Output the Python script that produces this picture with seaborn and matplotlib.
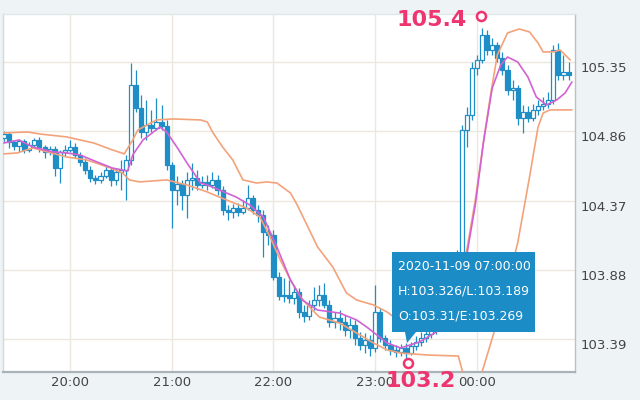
import numpy as np
import pandas as pd
import matplotlib
matplotlib.use("Agg")
import matplotlib.pyplot as plt
import matplotlib.dates as mdates
import matplotlib.transforms as mtransforms
from matplotlib.patches import Rectangle, Polygon
import seaborn as sns

# 3-minute candles, first one at 19:21
start = "2020-11-08 19:21"

opens = [104.813, 104.841, 104.784, 104.756, 104.791, 104.728, 104.763, 104.798, 104.749, 104.714,
         104.735, 104.600, 104.714, 104.728, 104.749, 104.692, 104.643, 104.586, 104.530, 104.516,
         104.544, 104.586, 104.516, 104.572, 104.586, 104.657, 105.187, 105.025, 104.855, 104.905,
         104.883, 104.926, 104.897, 104.622, 104.445, 104.487, 104.410, 104.516, 104.530, 104.480,
         104.502, 104.480, 104.516, 104.445, 104.304, 104.289, 104.318, 104.289, 104.318, 104.388,
         104.304, 104.268, 104.148, 104.127, 103.830, 103.695, 103.703, 103.681, 103.724, 103.582,
         103.554, 103.632, 103.667, 103.703, 103.632, 103.512, 103.540, 103.512, 103.455, 103.490,
         103.398, 103.349, 103.384, 103.328, 103.582, 103.398, 103.349, 103.314, 103.299, 103.328,
         103.292, 103.342, 103.370, 103.398, 103.427, 103.455, 103.483, 103.526, 103.540, 103.561,
         103.985, 104.869, 104.975, 105.308, 105.364, 105.541, 105.435, 105.470, 105.378, 105.293,
         105.152, 105.166, 104.954, 104.996, 104.954, 105.011, 105.039, 105.053, 105.081, 105.435,
         105.258, 105.279]
highs = [104.862, 104.855, 104.798, 104.806, 104.806, 104.784, 104.813, 104.820, 104.763, 104.756,
         104.756, 104.728, 104.763, 104.798, 104.777, 104.714, 104.671, 104.615, 104.551, 104.572,
         104.615, 104.600, 104.600, 104.657, 104.692, 105.343, 105.293, 105.117, 105.081, 105.011,
         105.095, 105.046, 104.940, 104.643, 104.544, 104.516, 104.572, 104.636, 104.586, 104.544,
         104.551, 104.572, 104.551, 104.473, 104.339, 104.346, 104.353, 104.374, 104.480, 104.410,
         104.339, 104.304, 104.197, 104.162, 103.865, 103.823, 103.809, 103.773, 103.752, 103.632,
         103.667, 103.759, 103.773, 103.787, 103.667, 103.582, 103.596, 103.561, 103.540, 103.526,
         103.441, 103.434, 103.420, 103.773, 103.611, 103.420, 103.384, 103.349, 103.356, 103.363,
         103.370, 103.413, 103.441, 103.469, 103.512, 103.540, 103.582, 103.596, 103.632, 104.021,
         104.905, 105.032, 105.350, 105.400, 105.590, 105.576, 105.520, 105.491, 105.421, 105.329,
         105.223, 105.187, 105.046, 105.039, 105.053, 105.081, 105.102, 105.138, 105.470, 105.484,
         105.400, 105.350]
lows = [104.784, 104.742, 104.728, 104.714, 104.707, 104.714, 104.749, 104.714, 104.671, 104.692,
        104.544, 104.494, 104.685, 104.714, 104.671, 104.615, 104.558, 104.502, 104.487, 104.494,
        104.530, 104.473, 104.480, 104.445, 104.374, 104.622, 104.996, 104.813, 104.798, 104.855,
        104.869, 104.869, 104.586, 104.176, 104.339, 104.304, 104.247, 104.445, 104.445, 104.459,
        104.445, 104.459, 104.410, 104.268, 104.233, 104.247, 104.261, 104.275, 104.304, 104.275,
        104.219, 103.971, 104.056, 103.809, 103.667, 103.653, 103.646, 103.639, 103.540, 103.512,
        103.526, 103.596, 103.625, 103.611, 103.476, 103.469, 103.455, 103.413, 103.398, 103.349,
        103.314, 103.292, 103.271, 103.299, 103.370, 103.314, 103.278, 103.264, 103.271, 103.250,
        103.278, 103.314, 103.342, 103.370, 103.398, 103.427, 103.455, 103.483, 103.512, 103.526,
        103.964, 104.749, 104.940, 105.258, 105.343, 105.400, 105.400, 105.350, 105.258, 105.117,
        105.081, 104.905, 104.848, 104.926, 104.933, 104.975, 105.011, 105.025, 105.053, 105.223,
        105.223, 105.223]
closes = [104.841, 104.784, 104.756, 104.791, 104.728, 104.763, 104.798, 104.749, 104.714, 104.735,
          104.600, 104.714, 104.728, 104.749, 104.692, 104.643, 104.586, 104.530, 104.516, 104.544,
          104.586, 104.516, 104.572, 104.586, 104.657, 105.187, 105.025, 104.855, 104.905, 104.883,
          104.926, 104.897, 104.622, 104.445, 104.487, 104.410, 104.516, 104.530, 104.480, 104.502,
          104.480, 104.516, 104.445, 104.304, 104.289, 104.318, 104.289, 104.318, 104.388, 104.304,
          104.268, 104.148, 104.127, 103.830, 103.695, 103.703, 103.681, 103.724, 103.582, 103.554,
          103.632, 103.667, 103.703, 103.632, 103.512, 103.540, 103.512, 103.455, 103.490, 103.398,
          103.349, 103.384, 103.328, 103.582, 103.398, 103.349, 103.314, 103.299, 103.328, 103.292,
          103.342, 103.370, 103.398, 103.427, 103.455, 103.483, 103.526, 103.540, 103.561, 103.985,
          104.869, 104.975, 105.308, 105.364, 105.541, 105.435, 105.470, 105.378, 105.293, 105.152,
          105.166, 104.954, 104.996, 104.954, 105.011, 105.039, 105.053, 105.081, 105.435, 105.258,
          105.279, 105.258]

# indicator lines, minutes after 20:00
ma_minutes = [-39, -30, -22, -10, -2, 6, 16, 25, 34, 37, 43, 53, 57, 63, 69, 77, 81, 88, 98, 106,
              114, 122, 130, 137, 146, 159, 169, 175, 187, 195, 206, 218, 227, 233, 239, 244, 249,
              254, 258, 264, 270, 275, 281, 287, 292, 296]
ma_values = [104.777, 104.798, 104.749, 104.714, 104.707, 104.692, 104.643, 104.600, 104.579, 104.692,
             104.798, 104.890, 104.855, 104.749, 104.636, 104.494, 104.480, 104.445, 104.395, 104.339,
             104.254, 104.042, 103.809, 103.667, 103.596, 103.575, 103.526, 103.476, 103.363, 103.328,
             103.370, 103.455, 103.632, 103.915, 104.339, 104.798, 105.166, 105.329, 105.385, 105.350,
             105.244, 105.102, 105.046, 105.081, 105.131, 105.209]

upper_minutes = [-39, -25, -18, -2, 14, 25, 32, 37, 40, 51, 61, 77, 81, 84, 90, 96, 102, 110, 116,
                 122, 130, 134, 146, 155, 163, 169, 179, 187, 195, 212, 224, 230, 234, 239, 244, 248,
                 252, 258, 265, 271, 276, 279, 285, 289, 295]
upper_values = [104.848, 104.855, 104.841, 104.820, 104.777, 104.728, 104.700, 104.798, 104.869, 104.940,
                104.947, 104.940, 104.926, 104.855, 104.749, 104.657, 104.516, 104.494, 104.502, 104.494,
                104.424, 104.339, 104.042, 103.900, 103.717, 103.667, 103.632, 103.582, 103.512, 103.455,
                103.540, 103.738, 104.021, 104.374, 104.798, 105.117, 105.400, 105.555, 105.583, 105.562,
                105.484, 105.421, 105.421, 105.435, 105.364]

lower_minutes = [-39, -31, -22, -2, 10, 24, 31, 35, 41, 57, 69, 81, 88, 104, 112, 118, 124, 130, 136,
                 140, 147, 159, 169, 179, 187, 195, 211, 229, 232, 236, 240, 243, 254, 264, 271, 276,
                 279, 283, 296]
lower_values = [104.700, 104.707, 104.742, 104.678, 104.657, 104.600, 104.565, 104.516, 104.502, 104.516,
                104.480, 104.431, 104.395, 104.318, 104.254, 104.113, 103.950, 103.809, 103.688, 103.632,
                103.547, 103.504, 103.434, 103.363, 103.314, 103.292, 103.278, 103.271, 103.137, 102.960,
                102.990, 103.158, 103.596, 104.070, 104.537, 104.890, 104.989, 105.011, 105.011]

y_ticks = [103.39, 103.88, 104.37, 104.86, 105.35]
x_ticks = ["2020-11-08 20:00", "2020-11-08 21:00", "2020-11-08 22:00", "2020-11-08 23:00", "2020-11-09 00:00"]
tooltip_lines = ["2020-11-09 07:00:00", "H:103.326/L:103.189", "O:103.31/E:103.269"]
high_label = "105.4"
low_label = "103.2"

blue = "#1f8dc6"
pink = "#ee3570"

sns.set_style("white")
plt.rcParams["font.family"] = ["DejaVu Sans"]

base = pd.Timestamp("2020-11-08 20:00")
df = pd.DataFrame({"time": pd.date_range(start, periods=len(closes), freq="3min"),
                   "open": opens, "high": highs, "low": lows, "close": closes})
df["x"] = mdates.date2num(df["time"])

def line_frame(mins, vals):
    t = base + pd.to_timedelta(mins, unit="min")
    return pd.DataFrame({"x": mdates.date2num(t), "value": vals})

ma = line_frame(ma_minutes, ma_values)
upper = line_frame(upper_minutes, upper_values)
lower = line_frame(lower_minutes, lower_values)

fig = plt.figure(figsize=(6.4, 4), dpi=100, facecolor="#eef3f5")
ax = fig.add_axes([3 / 640, 28 / 400, 572 / 640, 358 / 400])
ax.set_facecolor("white")

# candles
w = 2.4 / 1440
ax.vlines(df["x"], df["low"], df["high"], color=blue, lw=0.9, zorder=2)
up = df[df["close"] >= df["open"]]
dn = df[df["close"] < df["open"]]
ax.bar(up["x"], up["close"] - up["open"], bottom=up["open"], width=w,
       facecolor="white", edgecolor=blue, linewidth=0.9, zorder=3)
ax.bar(dn["x"], dn["open"] - dn["close"], bottom=dn["close"], width=w,
       facecolor=blue, edgecolor=blue, linewidth=0.9, zorder=3)

# moving average + bands
sns.lineplot(data=upper, x="x", y="value", color="#f4a27a", lw=1.2, ax=ax, zorder=4)
sns.lineplot(data=lower, x="x", y="value", color="#f4a27a", lw=1.2, ax=ax, zorder=4)
sns.lineplot(data=ma, x="x", y="value", color="#d262d4", lw=1.2, ax=ax, zorder=4)

ax.set_xlim(mdates.date2num(base + pd.Timedelta(minutes=-39.5)),
            mdates.date2num(base + pd.Timedelta(minutes=297.8)))
ax.set_ylim(103.158, 105.689)
ax.set_xlabel("")
ax.set_ylabel("")

ax.set_xticks(mdates.date2num(pd.to_datetime(x_ticks)))
ax.xaxis.set_major_formatter(mdates.DateFormatter("%H:%M"))
ax.set_yticks(y_ticks)
ax.set_yticklabels([f"{v:.2f}" for v in y_ticks])
ax.yaxis.tick_right()
ax.tick_params(axis="y", length=0, pad=4, labelsize=9.5, labelcolor="#444444")
ax.tick_params(axis="x", length=0, pad=3, labelsize=9.5, labelcolor="#444444")
offset = mtransforms.ScaledTranslation(0, -5 / 100, fig.dpi_scale_trans)
for lbl in ax.get_yticklabels():
    lbl.set_transform(lbl.get_transform() + offset)

ax.grid(True, color="#ede8dc", lw=1)
ax.set_axisbelow(True)
for side, col, lw in [("bottom", "#aab3b7", 1.6), ("right", "#b9c1c5", 1.0),
                      ("left", "#d3d9dc", 1.0), ("top", "#e1e6e8", 1.0)]:
    ax.spines[side].set_color(col)
    ax.spines[side].set_linewidth(lw)

# high / low markers
i_hi = int(np.argmax(df["high"]))
i_lo = int(np.argmin(df["low"]))
x_hi, y_hi = df["x"][i_hi], df["high"][i_hi]
x_lo, y_lo = df["x"][i_lo], df["low"][i_lo]
ring_hi = mtransforms.offset_copy(ax.transData, fig=fig, x=-1, y=12, units="dots")
ring_lo = mtransforms.offset_copy(ax.transData, fig=fig, x=2, y=-4, units="dots")
ax.plot(x_hi, y_hi, marker="o", ms=6.5, mfc="white", mec=pink, mew=1.8,
        transform=ring_hi, clip_on=False, zorder=6)
ax.plot(x_lo, y_lo, marker="o", ms=6.5, mfc="white", mec=pink, mew=1.8,
        transform=ring_lo, clip_on=False, zorder=6)
ax.annotate(high_label, xy=(x_hi, y_hi), xytext=(-50, 8), textcoords="offset pixels",
            ha="center", va="center", fontsize=16, fontweight="bold", color=pink,
            annotation_clip=False, zorder=7)
ax.annotate(low_label, xy=(x_lo, y_lo), xytext=(15, -22), textcoords="offset pixels",
            ha="center", va="center", fontsize=16, fontweight="bold", color=pink,
            annotation_clip=False, zorder=7)

# tooltip box
tx0, tx1 = (392 - 3) / 572, (535 - 3) / 572
ty0, ty1 = (372 - 332) / 358, (372 - 252) / 358
ax.add_patch(Rectangle((tx0, ty0), tx1 - tx0, ty1 - ty0, transform=ax.transAxes,
                       facecolor="#1b8cc6", edgecolor="none", zorder=8))
ax.add_patch(Polygon([((405 - 3) / 572, ty0), ((416 - 3) / 572, ty0), ((407 - 3) / 572, (372 - 343) / 358)],
                     closed=True, transform=ax.transAxes, facecolor="#1b8cc6", edgecolor="none", zorder=8))
for txt, yp in zip(tooltip_lines, [267, 291, 316]):
    ax.text((398 - 3) / 572, (372 - yp) / 358, txt, transform=ax.transAxes, ha="left", va="center",
            fontsize=9, color="white", zorder=9)

fig.savefig("out.png", dpi=100, facecolor=fig.get_facecolor())
